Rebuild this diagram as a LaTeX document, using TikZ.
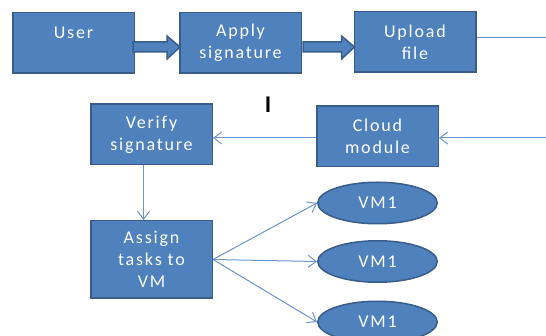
\documentclass[tikz,border=0pt]{standalone}
\usepackage{fontspec}
\setmainfont{Carlito}[LetterSpace=10]
\usetikzlibrary{calc,positioning,arrows.meta,shapes.geometric}

\definecolor{boxfill}{HTML}{4F81BD}
\definecolor{boxline}{HTML}{385D8A}
\definecolor{wirecol}{HTML}{6A94CB}

\tikzset{
  box/.style={draw=boxline, fill=boxfill, line width=1.5pt, minimum width=121.5pt,
    minimum height=60.5pt, inner sep=2pt, text=white, align=center,
    font=\fontsize{18}{22}\selectfont},
  vm/.style={ellipse, draw=boxline, fill=boxfill, line width=1.5pt, minimum width=119.5pt,
    minimum height=41.5pt, inner sep=1pt, text=white, font=\fontsize{18}{22}\selectfont},
  fat/.style={draw=boxline, fill=boxfill, line width=1.5pt, line join=miter},
  wire/.style={draw=wirecol, line width=1pt},
  flow/.style={wire, -{Straight Barb[length=8pt,width=12pt]}}
}

\begin{document}
\begin{tikzpicture}[x=1pt, y=-1pt]
			\useasboundingbox (0,0) rectangle (546,336);
			% top row
			\node[box, text depth=20pt] at (73.5,43) (user) {User};
			\node[box] at (240.5,43) (apply) {Apply\\signature};
			\node[box] at (415,42) (upload) {Upload\\file};
			% middle row
			\node[box] at (151.5,134.5) (verify) {Verify\\signature};
			\node[box] at (377.5,136.5) (cloud) {Cloud\\module};
			\node[font=\fontsize{24}{24}\selectfont\bfseries] at (268,105) (cursor) {I};
			% bottom part
			\node[box, minimum height=77.5pt] at (151.5,259.5) (assign) {Assign\\tasks to\\VM};
			\node[vm] at (377.5,203) (vma) {VM1};
			\node[vm] at (377.5,261.5) (vmb) {VM1};
			\node[vm] at (377.5,322) (vmc) {VM1};
			\coordinate (rta) at (546,38);
			\coordinate (rtb) at (546,138);
			% block arrows
			\draw[fat] ($(user.east)+(-2,-1)$) -- ($(apply.west)+(-12,-1)$) -- ++(0,-6)
				-- ($(apply.west)+(1,4)$) -- ($(apply.west)+(-12,16)$) -- ++(0,-7)
				-- ($(user.east)+(-2,9)$) -- cycle;
			\draw[fat] ($(apply.east)+(1,-1)$) -- ($(upload.west)+(-12,0)$) -- ++(0,-6)
				-- ($(upload.west)+(1,5)$) -- ($(upload.west)+(-12,17)$) -- ++(0,-7)
				-- ($(apply.east)+(1,9)$) -- cycle;
			% thin connectors
			\draw[wire] (upload.east |- rta) -- (rta);
			\draw[flow] (rtb) -- (rtb -| cloud.east);
			\draw[flow] (cloud.west |- rtb) -- (rtb -| verify.east);
			\draw[flow] ($(verify.south)+(-8,0)$) -- ($(assign.north)+(-8,0)$);
			\draw[flow] (assign.east) -- (vma.west);
			\draw[flow] (assign.east) -- (vmb.west);
			\draw[flow] (assign.east) -- (vmc.west);
		\end{tikzpicture}
\end{document}
